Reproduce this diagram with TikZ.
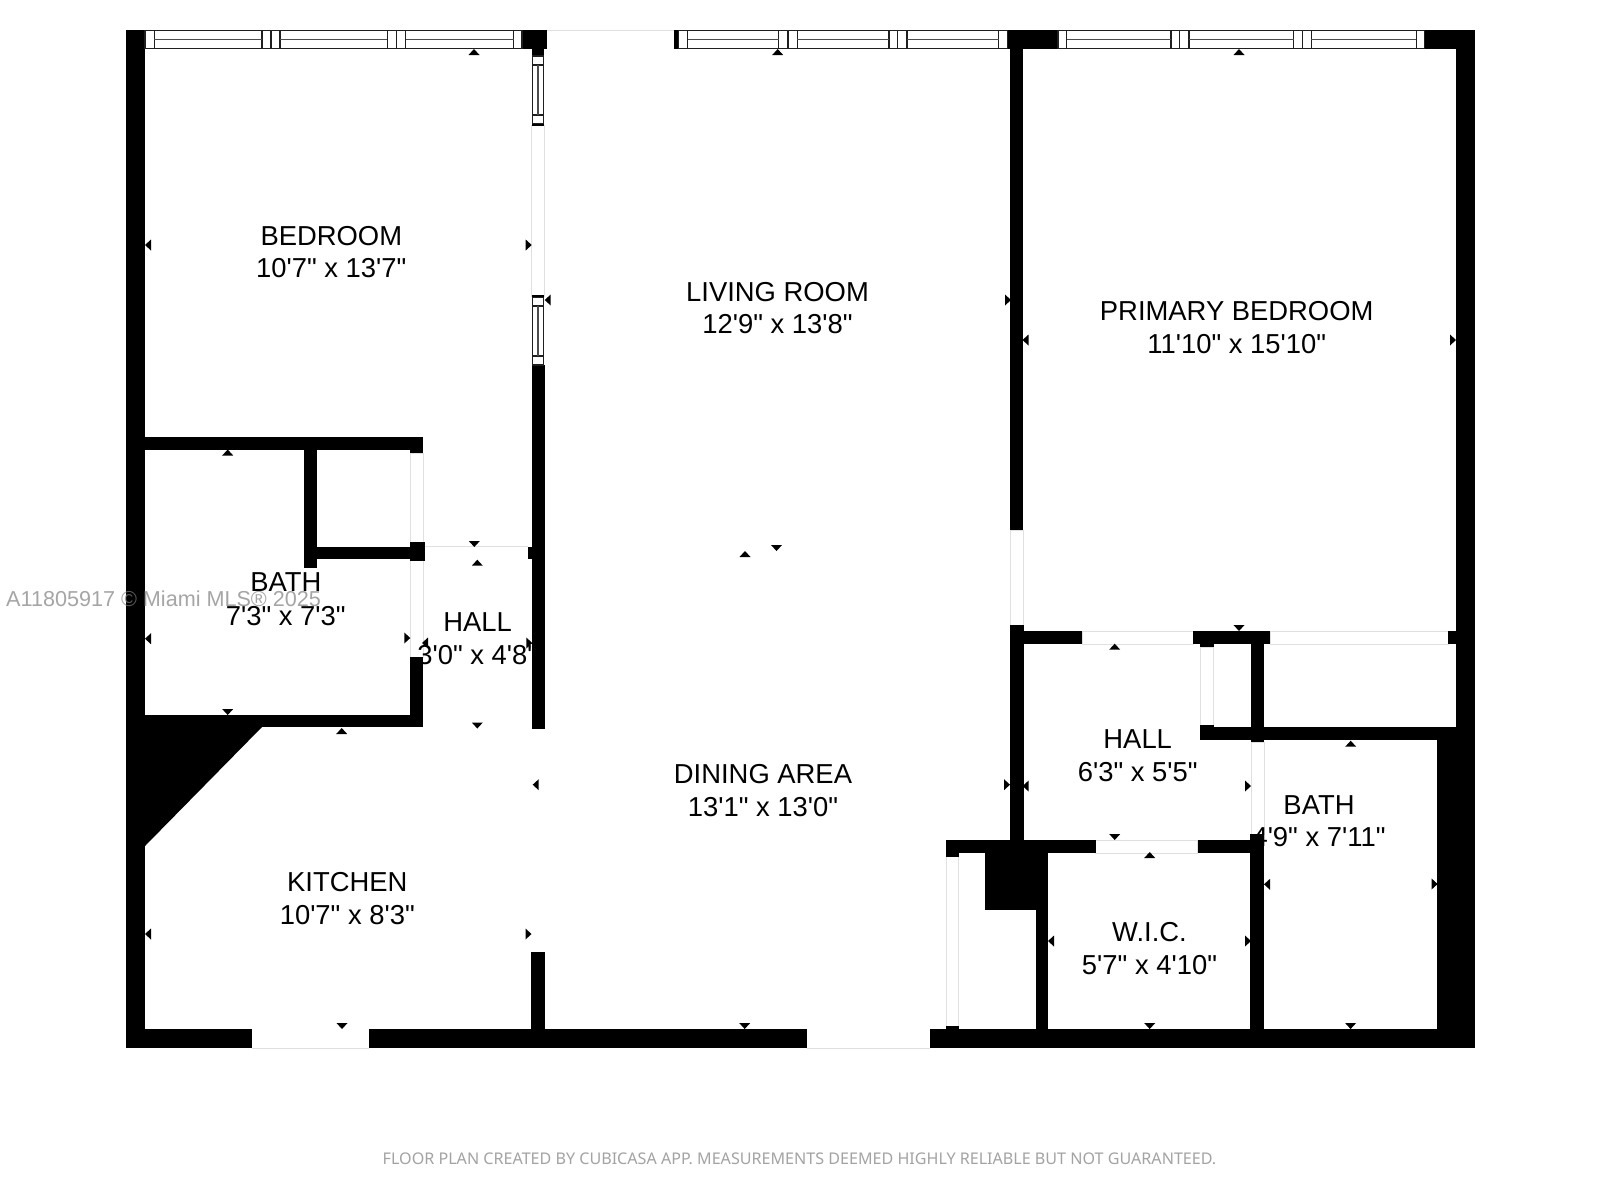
\documentclass[tikz,border=0pt]{standalone}
\usepackage{fontspec}
\newfontfamily\roomfont{Liberation Sans}
\newfontfamily\footfont{Noto Sans}
\definecolor{doorline}{gray}{0.88}
\definecolor{glassline}{gray}{0.12}
\definecolor{glassmid}{gray}{0.3}
\tikzset{
  wallfill/.style={fill=black,draw=none},
  doorleaf/.style={draw=doorline,line width=0.9pt,fill=white},
  glass/.style={draw=glassline,line width=1.1pt,fill=white},
  glassmidline/.style={draw=glassmid,line width=1.6pt},
  tickmark/.style={fill=black,draw=none},
  roomtext/.style={anchor=base,inner sep=0pt,font=\roomfont\fontsize{27.4}{32}\selectfont,text=black},
  markwater/.style={anchor=base west,inner sep=0pt,font=\roomfont\fontsize{21.6}{26}\selectfont,text=black!50,opacity=.7},
  footnote/.style={anchor=base,inner sep=0pt,font=\footfont\fontsize{16.1}{20}\selectfont,text=black!36}
}
\newcommand{\wl}[4]{\path[wallfill] (#1,#2) rectangle (#3,#4);}
\newcommand{\dr}[4]{\path[doorleaf] (#1,#2) rectangle (#3,#4);}
\newcommand{\room}[7]{%
  \node[roomtext] (#1a) at (#2,#3) {#4};
  \node[roomtext] (#1b) at (#2,#5) {#6#7};}
\begin{document}
\begin{tikzpicture}[x=1pt,y=-1pt]
\useasboundingbox (0,0) rectangle (1600,1200);
\fill[white] (0,0) rectangle (1600,1200);

% door openings
\draw[doorline,line width=.9pt] (547,30.5) -- (674,30.5);
\dr{531.7}{125}{544.3}{296}
\dr{410}{453}{423.3}{542}
\dr{410}{560}{423.3}{657}
\draw[doorline,line width=.9pt] (425,546.5) -- (528,546.5);
\dr{1010.3}{530}{1023.5}{625}
\dr{1082}{631}{1193}{644}
\dr{1270}{631}{1448}{644}
\dr{1200.2}{647}{1213.6}{725}
\dr{1251}{742}{1264}{834}
\dr{1095.7}{840}{1197.5}{853.3}
\dr{946}{856}{958.8}{1026}
\draw[doorline,line width=.9pt] (251.5,1048.4) -- (369,1048.4) (806.6,1048.4) -- (929.5,1048.4);

% room labels (over the door openings; some run into the walls)
\room{bed}{331.3}{245.3}{BEDROOM}{277.7}{10'7" x 13'7"}{}
\room{liv}{777.5}{301}{LIVING ROOM}{333.5}{12'9" x 13'8"}{}
\room{pri}{1236.7}{320.3}{PRIMARY BEDROOM}{353}{11'10" x 15'10"}{}
\room{bat}{285.8}{591.7}{BATH}{625}{7'3" x 7'3"}{}
\room{hal}{477.7}{631.7}{HALL}{664.3}{\hspace{-1pt}3'0" x 4'8"}{}
\room{din}{763}{783.6}{DINING AREA}{816}{13'1" x 13'0"}{}
\room{hlr}{1137.7}{748}{HALL}{781.3}{6'3" x 5'5"}{}
\room{btr}{1319}{814}{BATH}{846.7}{4'9" x 7'11"}{}
\room{wic}{1149.5}{941}{W.I.C.}{974}{5'7" x 4'10"}{}
\room{kit}{347.3}{891.7}{KITCHEN}{924.4}{10'7" x 8'3"}{}

% outer walls
\wl{126}{30}{145}{1048.3}
\wl{126}{1028.5}{251.5}{1048.3}
\wl{369}{1028.5}{806.6}{1048.3}
\wl{929.5}{1029}{1475}{1048.3}
\wl{1455.7}{30}{1475}{1048.3}
\wl{1437.3}{740}{1475}{1048.3}
\wl{522}{30}{547.3}{49}
\wl{531.7}{49}{544.3}{56}
\wl{1007.5}{30}{1058}{49}
\wl{1424.4}{30}{1475}{49}
\wl{674}{30}{678.4}{49}

% bedroom / living partition
\wl{531.7}{123.3}{544.3}{125.5}
\wl{531.7}{295}{544.3}{297.5}
\wl{531.7}{365}{544.8}{729}
\wl{528}{546.5}{532}{559.3}
\wl{531.3}{951.7}{545}{1030}

% left bath
\wl{145}{436.7}{423.3}{450}
\wl{410}{450}{423.3}{453.3}
\wl{304.3}{450}{317.3}{568.3}
\wl{317}{546.7}{411}{559.3}
\wl{410}{541.7}{425}{560.7}
\wl{410}{656.7}{423.3}{727.3}
\wl{145}{714.7}{423.3}{727.3}
\path[wallfill] (145,727) -- (262,727) -- (145,846) -- cycle;

% living / primary partition
\wl{1010.3}{49}{1022.9}{530}
\wl{1010.3}{625}{1023.5}{840}
\wl{1023}{631}{1082}{644}
\wl{1193}{631}{1270}{644}
\wl{1200.2}{644}{1213.6}{647.3}
\wl{1448}{631}{1456}{644}
\wl{1251}{644}{1263.8}{742.3}
\wl{1200.2}{724.7}{1213.6}{740}
\wl{1200.2}{726.7}{1456}{740}

% closet walls
\wl{946}{839.5}{1095.7}{853.3}
\wl{946}{853}{958.8}{856.7}
\wl{946}{1025.7}{958.8}{1030}
\wl{1197.5}{839.5}{1251}{853.3}
\wl{985}{853}{1048.4}{910.3}
\wl{1035.8}{910}{1048.4}{1030}
\wl{1250.4}{834}{1264}{1030}

% windows, top row
\path[glass] (145,30.5) rectangle (522,48.5);
\path[glass] (678.4,30.5) rectangle (1007.5,48.5);
\path[glass] (1058,30.5) rectangle (1424.4,48.5);
\foreach \xa/\xb in {154.3/262,280/387.3,405.7/513.7,687.7/778.8,797.4/889,907/998.7,1066.8/1171,1189/1293.9,1311.4/1416.2}{
  \path[glass,fill=none] (\xa,30.5) rectangle (\xb,48.5);
  \draw[glassmidline] (\xa,39.4) -- (\xb,39.4);
}
\foreach \xc in {271,396.3,788,897.8,1179.8,1302.6}{
  \draw[glass] (\xc,30.5) -- (\xc,48.5);
}
% windows, bedroom side
\foreach \ya/\yb/\yc/\yd in {56/65/115/123.5,297.5/306/356/365}{
  \path[glass] (532.3,\ya) rectangle (543.7,\yd);
  \draw[glass] (532.3,\yb) -- (543.7,\yb) (532.3,\yc) -- (543.7,\yc);
  \draw[glassmidline] (538,\yb) -- (538,\yc);
}

% dimension ticks
\foreach \x/\y in {474/52,777.7/52,1239/52,227.7/452.5,477.3/562.7,341.7/731,745/554,1114.7/646.7,1350.7/743.7,1149.7/855}{
  \path[tickmark] (\x-5.5,\y+3) -- (\x,\y-3) -- (\x+5.5,\y+3) -- cycle;
}
\foreach \x/\y in {474.3/544,227.7/712,477.3/725.5,776.5/548,1239/628,1114.7/837,1149.7/1026,1350.6/1026,342/1026,744.7/1026}{
  \path[tickmark] (\x-5.5,\y-3) -- (\x,\y+3) -- (\x+5.5,\y-3) -- cycle;
}
\foreach \x/\y in {148/245,547.7/300,148/638.7,425/643,1025.5/340,1025.6/786,148/934,535.7/784.7,1051/941,1267/884.3}{
  \path[tickmark] (\x+3,\y-5.5) -- (\x-3,\y) -- (\x+3,\y+5.5) -- cycle;
}
\foreach \x/\y in {528.7/245,1008/300,1453/340,407.3/638,529.3/643,1007/784.7,1248/786,1248/941,1434.6/884,528.5/934}{
  \path[tickmark] (\x-3,\y-5.5) -- (\x+3,\y) -- (\x-3,\y+5.5) -- cycle;
}

% watermark and credit line
\node[markwater] (mls) at (6,606.7) {A11805917 © Miami MLS® 2025};
\node[footnote] (credit) at (799.5,1164.5) {FLOOR PLAN CREATED BY CUBICASA APP. MEASUREMENTS DEEMED HIGHLY RELIABLE BUT NOT GUARANTEED.};
\end{tikzpicture}
\end{document}
